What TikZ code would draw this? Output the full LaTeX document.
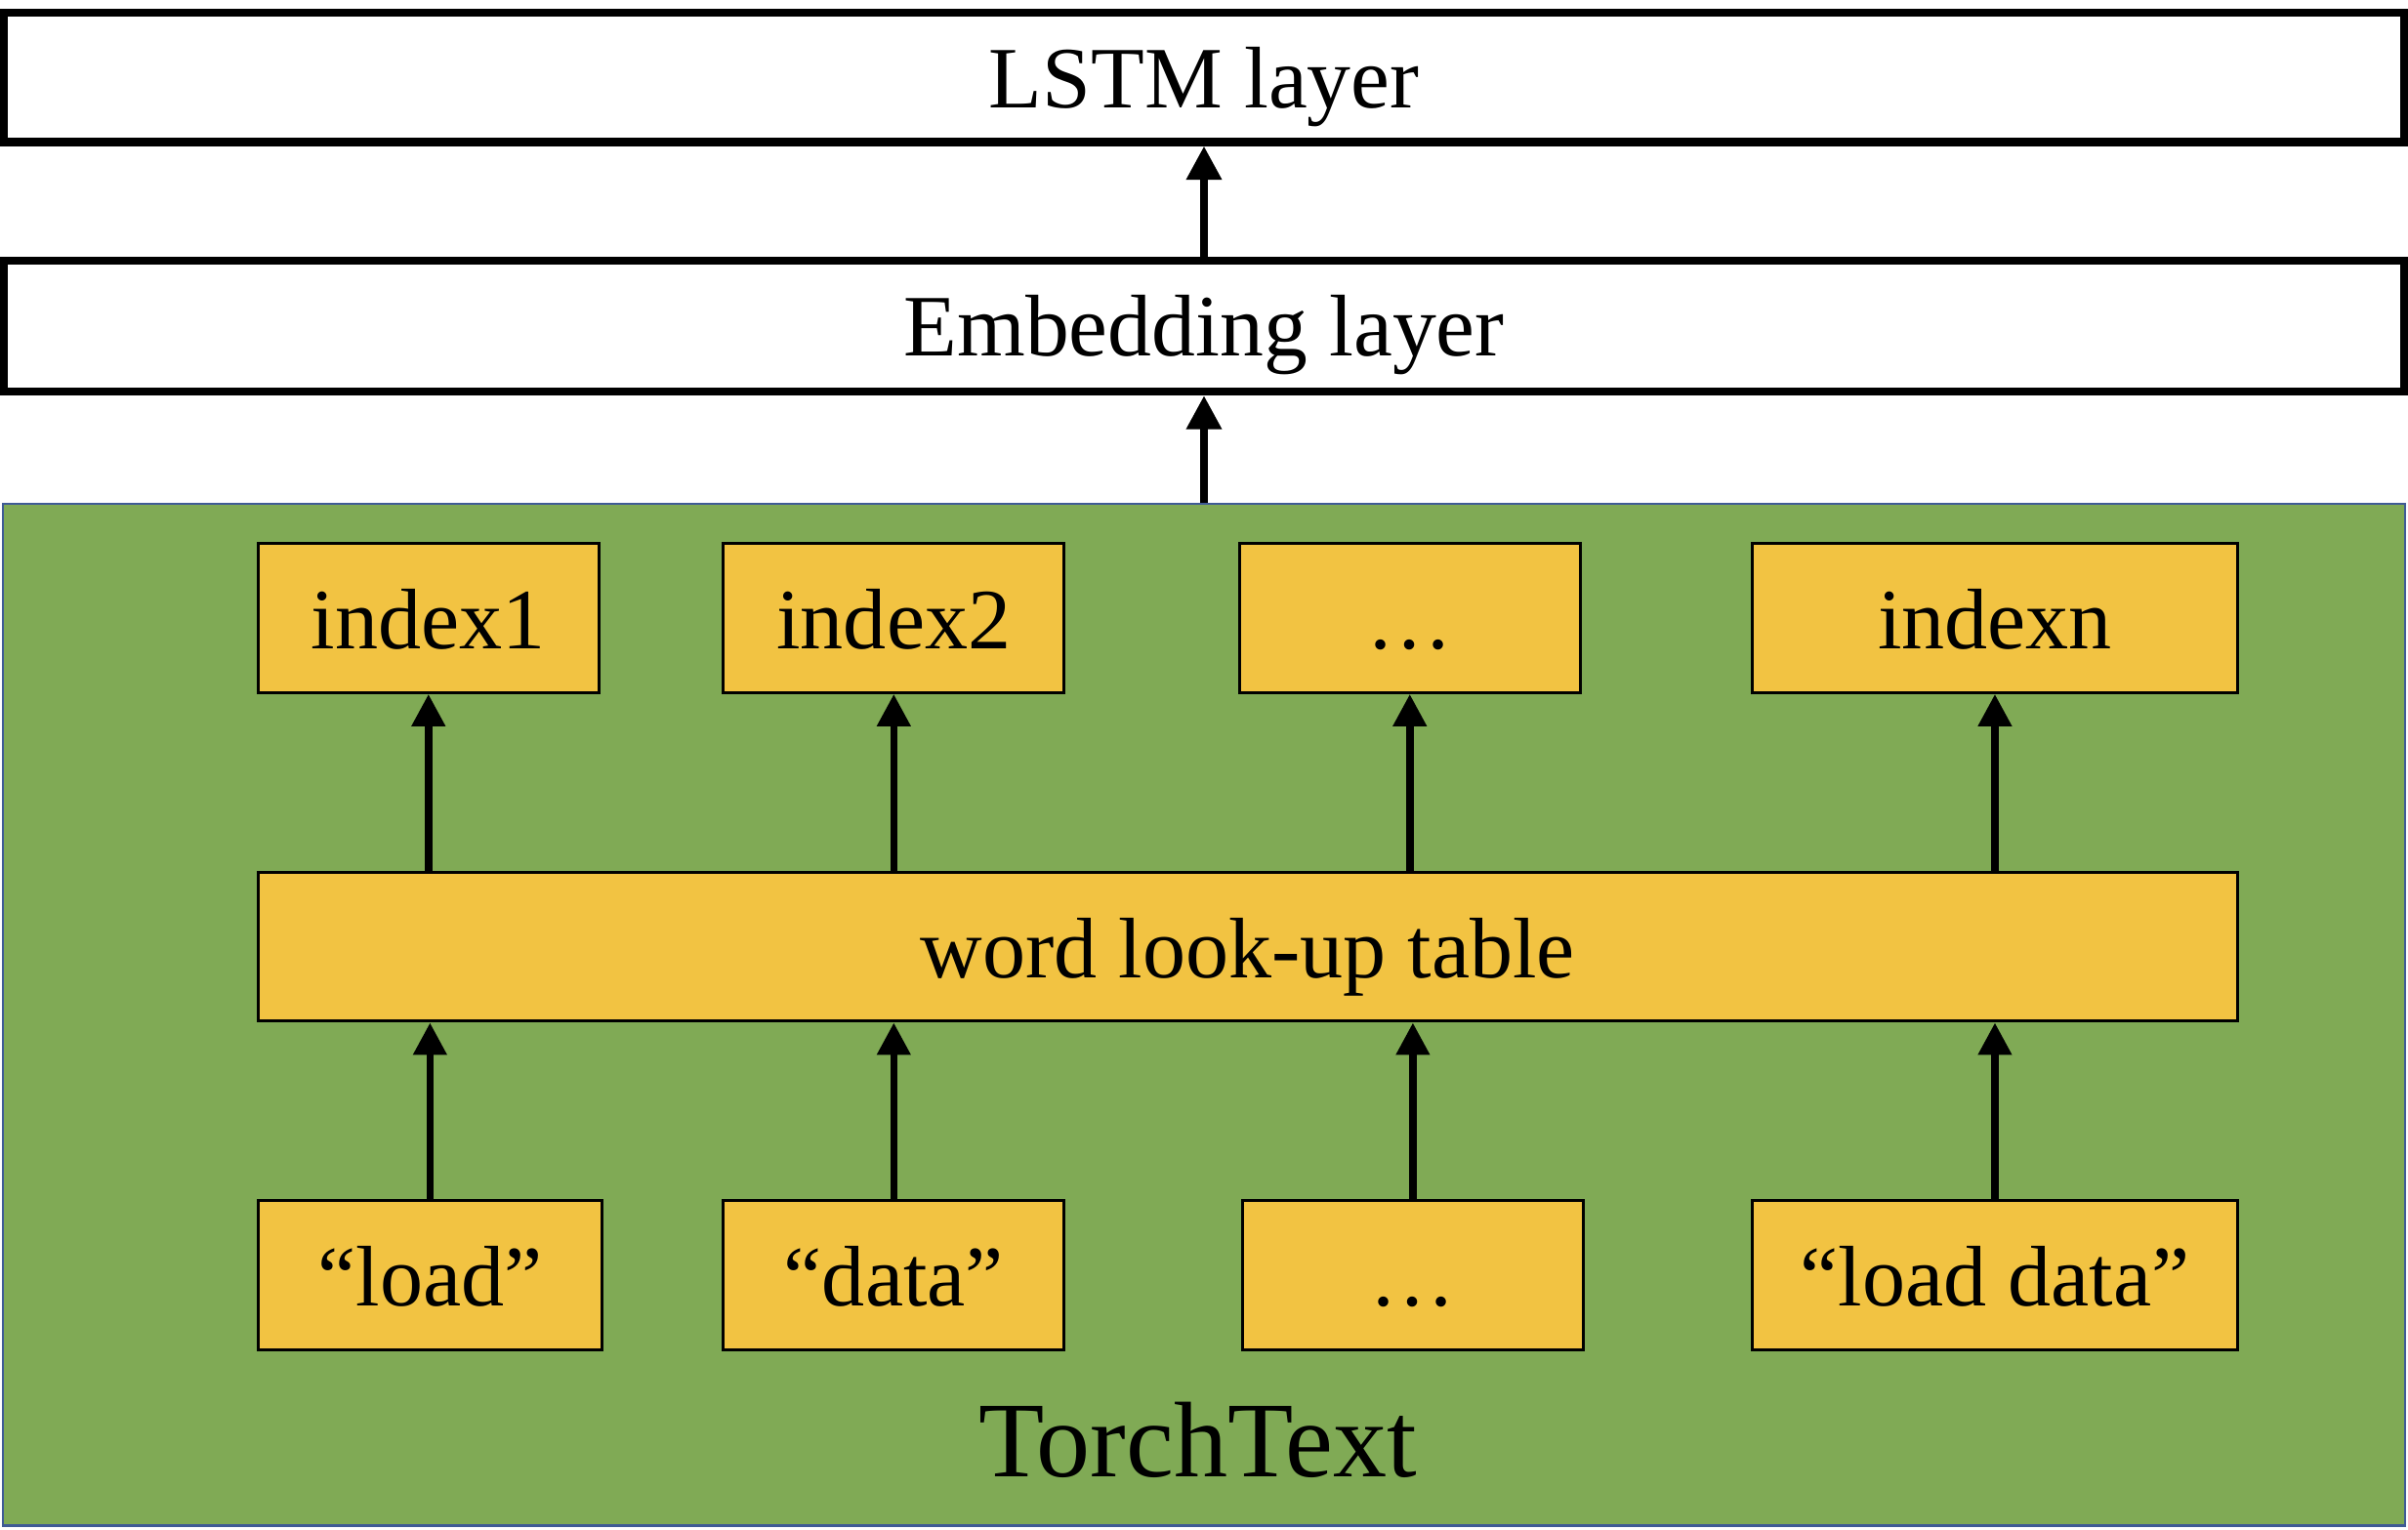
\documentclass[tikz,border=0pt]{standalone}
\usepackage{fontspec}
\setmainfont{Liberation Serif}
\usetikzlibrary{arrows.meta}
\definecolor{ggreen}{HTML}{80AA55}
\definecolor{gborder}{HTML}{3F5B95}
\definecolor{gold}{HTML}{F2C342}
\begin{document}
\begin{tikzpicture}[x=0.5pt,y=-0.5pt,
  layerbox/.style={draw, line width=2.6pt, fill=white, inner sep=0pt,
    text height=19.5pt, text depth=0pt, minimum width=781.5pt,
    font=\fontsize{28.5}{34}\selectfont},
  tbox/.style={draw, line width=1pt, fill=gold, inner sep=0pt,
    text height=20pt, text depth=0pt, minimum height=48.5pt,
    font=\fontsize{28}{34}\selectfont},
  greenbox/.style={draw=gborder, line width=0.8pt, fill=ggreen, inner sep=0pt},
  bigarr/.style={line width=2.6pt, -{Triangle[width=11pt,length=11pt]}},
  smallarr/.style={line width=2.4pt, -{Triangle[width=10.5pt,length=10.5pt]}}
]
\useasboundingbox (0,0) rectangle (1568,996);

% layers
\node[layerbox, minimum height=42pt] (lstm) at (784,50.5) {LSTM layer};
\node[layerbox, minimum height=42.5pt] (emb) at (784,212.5) {Embedding layer};

% green TorchText area
\node[greenbox, minimum width=782pt, minimum height=332.75pt] (green) at (784,660.75) {};
\node[font=\fontsize{35}{42}\selectfont, anchor=base] (tt) at (780,962) {TorchText};

% index row
\node[tbox, minimum width=111pt] (i1) at (279,402.5) {index1};
\node[tbox, minimum width=111pt] (i2) at (582,402.5) {index2};
\node[tbox, minimum width=111pt] (i3) at (918,402.5) {…};
\node[tbox, minimum width=158pt] (i4) at (1299,402.5) {indexn};

% table
\node[tbox, minimum width=644.5pt] (tab) at (812.5,616.5) {word look-up table};

% words row
\node[tbox, minimum width=112pt] (w1) at (280,830.5) {“load”};
\node[tbox, minimum width=111pt] (w2) at (582,830.5) {“data”};
\node[tbox, minimum width=111pt] (w3) at (920,830.5) {…};
\node[tbox, minimum width=158pt] (w4) at (1299,830.5) {“load data”};

% arrows
\draw[bigarr] (emb.north) -- (lstm.south);
\draw[bigarr] (green.north) -- (emb.south);
\foreach \n in {1,2,3,4}{
  \draw[smallarr] (tab.north -| i\n.south) -- (i\n.south);
  \draw[smallarr] (w\n.north) -- (w\n.north |- tab.south);
}
\end{tikzpicture}
\end{document}
